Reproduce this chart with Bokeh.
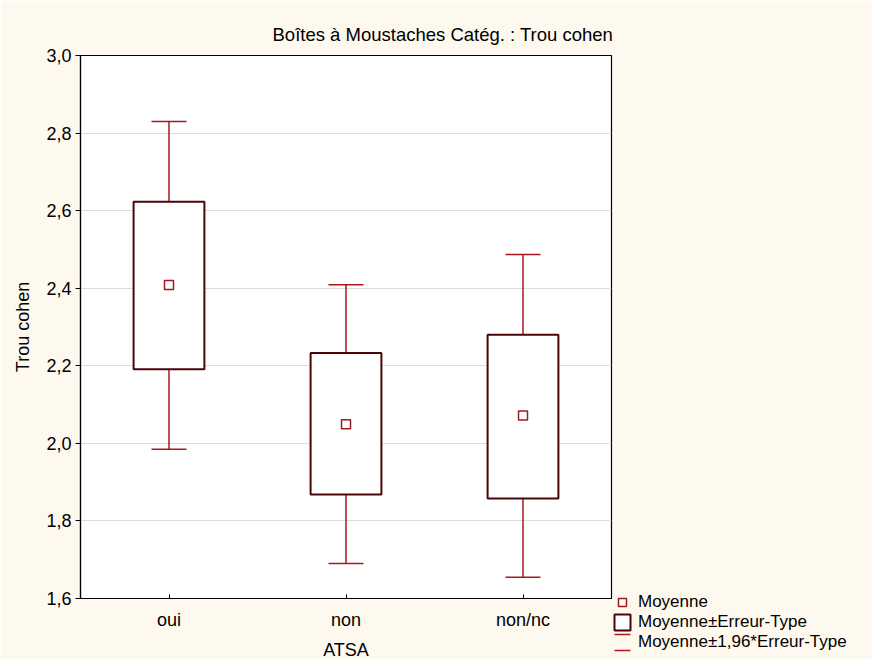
from bokeh.plotting import figure
from bokeh.models import (ColumnDataSource, FixedTicker, CustomJSTickFormatter, Whisker, TeeHead,
                          Legend, LegendItem, Range1d)
from bokeh.embed import file_html
from bokeh.resources import INLINE

# ---- data ----
categories = ["oui", "non", "non/nc"]
moyenne = [2.408, 2.049, 2.072]
se_bas = [2.191, 1.868, 1.858]
se_haut = [2.623, 2.233, 2.280]
ci_bas = [1.985, 1.690, 1.655]
ci_haut = [2.830, 2.409, 2.487]
y_ticks = [1.6, 1.8, 2.0, 2.2, 2.4, 2.6, 2.8, 3.0]

title_text = "Boîtes à Moustaches Catég. : Trou cohen"
x_label = "ATSA"
y_label = "Trou cohen"
legend_labels = ["Moyenne", "Moyenne±Erreur-Type", "Moyenne±1,96*Erreur-Type"]

FONT = "Liberation Sans"
FS = "18px"
BG = "#FEF9EF"
WHISK = "#A8181C"
BOX = "#4A0508"
MEAN = "#9B1B1F"

src = ColumnDataSource(dict(cat=categories, mean=moyenne, lo=se_bas, hi=se_haut,
                            wlo=ci_bas, whi=ci_haut))

p = figure(frame_width=531, frame_height=543, x_range=categories, y_range=Range1d(1.6, 3.0),
           output_backend="svg", toolbar_location=None,
           min_border_left=80, min_border_right=261, min_border_top=55, min_border_bottom=61)
p.border_fill_color = BG
p.background_fill_color = "white"
p.outline_line_color = "black"
p.outline_line_width = 1.2

# title
p.title.text = title_text
p.title.align = "left"
p.title.offset = 192
p.title.standoff = 22
p.title.text_font = FONT
p.title.text_font_size = "18.5px"
p.title.text_font_style = "normal"
p.title.text_color = "black"

# grid
p.xgrid.grid_line_color = None
p.ygrid.grid_line_color = "#DCDCDC"
p.ygrid.grid_line_width = 1
p.ygrid.ticker = FixedTicker(ticks=y_ticks)

# axes
p.yaxis.ticker = FixedTicker(ticks=y_ticks)
p.yaxis.formatter = CustomJSTickFormatter(code="return tick.toFixed(1).replace('.', ',');")
p.yaxis.major_tick_out = 5
p.yaxis.major_tick_in = 0
p.yaxis.minor_tick_line_color = None
p.yaxis.major_label_standoff = 4
p.yaxis.axis_label = y_label
p.yaxis.axis_label_standoff = 10

p.xaxis.major_tick_in = 4
p.xaxis.major_tick_out = 0
p.xaxis.major_label_standoff = 11
p.xaxis.axis_label = x_label
p.xaxis.axis_label_standoff = 7

for ax in (p.xaxis[0], p.yaxis[0]):
    ax.axis_line_color = "black"
    ax.axis_line_width = 1.2
    ax.major_tick_line_color = "black"
    ax.major_label_text_font = FONT
    ax.major_label_text_font_size = FS
    ax.major_label_text_color = "black"
    ax.axis_label_text_font = FONT
    ax.axis_label_text_font_size = FS
    ax.axis_label_text_font_style = "normal"
    ax.axis_label_text_color = "black"

# whiskers (1.96 * SE)
wh = Whisker(source=src, base="cat", lower="wlo", upper="whi", dimension="height",
             line_color=WHISK, line_width=1.5, level="underlay",
             lower_head=TeeHead(size=35, line_color=WHISK, line_width=1.5),
             upper_head=TeeHead(size=35, line_color=WHISK, line_width=1.5))
p.add_layout(wh)

# boxes (mean ± SE)
box_r = p.vbar(x="cat", width=0.4, bottom="lo", top="hi", source=src,
               fill_color="white", line_color=BOX, line_width=2)

# means
mean_r = p.scatter(x="cat", y="mean", source=src, marker="square", size=9,
                   fill_color="white", line_color=MEAN, line_width=1.5)

# legend-only renderer for the I-beam symbol (never drawn in the plot: NaN data).
# Dashed outline keeps only the two caps; one vertical hatch line gives the stem.
leg_src = ColumnDataSource(dict(x=[float("nan")], b=[float("nan")], t=[float("nan")]))
ibeam_r = p.vbar(x="x", bottom="b", top="t", width=0.1, source=leg_src,
                 fill_color=None, line_color=WHISK, line_width=1.5, line_dash="16 16",
                 hatch_pattern="v_line", hatch_scale=18, hatch_weight=1.5,
                 hatch_color=WHISK)

legend = Legend(items=[LegendItem(label=legend_labels[0], renderers=[mean_r]),
                       LegendItem(label=legend_labels[1], renderers=[box_r]),
                       LegendItem(label=legend_labels[2], renderers=[ibeam_r])],
                location=(1, -54), glyph_width=20, glyph_height=20, label_height=20,
                label_standoff=6, padding=0, margin=0, spacing=0,
                background_fill_alpha=0, border_line_alpha=0,
                label_text_font=FONT, label_text_font_size="17px", label_text_color="black")
p.add_layout(legend, "right")

open("out.html", "w").write(file_html(p, INLINE))
